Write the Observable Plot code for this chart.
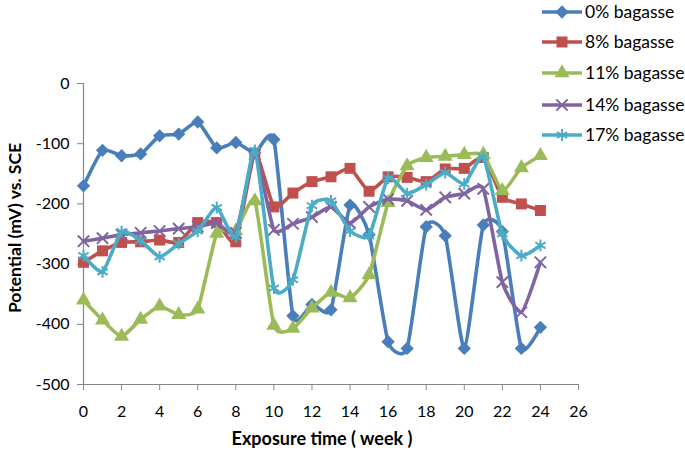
<!DOCTYPE html>
<html><head><meta charset="utf-8">
<script src="https://cdn.jsdelivr.net/npm/d3@7"></script>
<script src="https://cdn.jsdelivr.net/npm/@observablehq/plot@0.6"></script>
<style>
body{margin:0;background:#fff;}
#wrap{position:relative;width:685px;height:455px;}
#legend{position:absolute;left:0;top:0;pointer-events:none;}
</style></head><body><div id="wrap"></div>
<script>
const weeks = [0,1,2,3,4,5,6,7,8,9,10,11,12,13,14,15,16,17,18,19,20,21,22,23,24];
const seriesNames = ["0% bagasse","8% bagasse","11% bagasse","14% bagasse","17% bagasse"];
const s0  = [-170,-111,-120,-117,-87,-84,-64,-107,-98,-115,-93,-386,-367,-376,-202,-251,-429,-440,-238,-253,-440,-235,-246,-440,-405];
const s8  = [-297,-278,-264,-263,-260,-264,-231,-231,-263,-116,-205,-182,-163,-155,-141,-179,-155,-156,-163,-142,-141,-123,-189,-200,-211];
const s11 = [-360,-393,-420,-392,-370,-384,-375,-249,-245,-195,-402,-407,-373,-347,-356,-318,-198,-137,-123,-121,-118,-118,-178,-140,-120];
const s14 = [-262,-257,-251,-248,-245,-241,-238,-232,-248,-118,-243,-233,-222,-205,-232,-205,-192,-195,-210,-189,-183,-175,-330,-380,-297];
const s17 = [-286,-313,-246,-261,-288,-266,-245,-206,-255,-111,-340,-326,-203,-195,-245,-253,-157,-183,-168,-148,-167,-122,-250,-286,-269];
const allSeries = [s0, s8, s11, s14, s17];
const colors = ["#4A7EBB","#C0504D","#9BBB59","#8064A2","#4BACC6"];
const symbols = ["diamond2","square","triangle","times","asterisk"];
const xTicks = [0,2,4,6,8,10,12,14,16,18,20,22,24,26];
const yTicks = [0,-100,-200,-300,-400,-500];
const xLabel = "Exposure time ( week )";
const yLabel = "Potential (mV) vs. SCE";

const rows = [];
allSeries.forEach((s, k) => s.forEach((v, i) => rows.push({week: weeks[i], value: v, series: seriesNames[k], k})));

const marks = [
  Plot.ruleX([0], {stroke: "#868686", strokeWidth: 1.2}),
  Plot.ruleY([-500], {stroke: "#868686", strokeWidth: 1.2}),
  Plot.axisY({ticks: yTicks, tickSize: 6, tickPadding: 8, tickFormat: d => String(d), stroke: "#868686", fill: "#000", fontSize: 16, label: null}),
  Plot.axisX({ticks: xTicks, tickSize: 6, tickPadding: 15, tickFormat: d => String(d), stroke: "#868686", fill: "#000", fontSize: 16, label: null}),
  Plot.text([yLabel], {frameAnchor: "left", textAnchor: "middle", rotate: -90, dx: -68, dy: -6, fontWeight: "bold", fontSize: 17.5, fill: "#000"}),
  Plot.text([xLabel], {frameAnchor: "bottom", dy: 60, dx: -9, fontWeight: "bold", fontSize: 18, fill: "#000"})
];
const symSize = [6, 6.2, 5.6, 5.2, 5.6];
seriesNames.forEach((name, k) => {
  const d = rows.filter(r => r.k === k);
  marks.push(Plot.line(d, {x: "week", y: "value", stroke: colors[k], strokeWidth: 3.6, curve: "cardinal", tension: 0.45}));
  const filled = k < 3;
  marks.push(Plot.dot(d, {x: "week", y: "value", symbol: () => symbols[k], r: symSize[k],
    fill: filled ? colors[k] : "none", stroke: filled ? "none" : colors[k], strokeWidth: filled ? 0 : 2}));
});

const chart = Plot.plot({
  width: 685, height: 455,
  marginLeft: 83, marginRight: 107, marginTop: 83, marginBottom: 71,
  x: {domain: [0, 26]},
  y: {domain: [-500, 0]},
  symbol: {type: "identity"},
  style: {fontFamily: "Lato, sans-serif", fontSize: "16px", color: "#000", background: "#fff", overflow: "visible"},
  marks
});
document.getElementById("wrap").appendChild(chart);

// legend
const lg = d3.select("#wrap").append("svg").attr("id", "legend").attr("width", 685).attr("height", 455);
const legendY = [12, 42, 73, 105, 135];
const symMap = {diamond2: d3.symbolDiamond2, square: d3.symbolSquare, triangle: d3.symbolTriangle, times: d3.symbolTimes, asterisk: d3.symbolAsterisk};
seriesNames.forEach((name, k) => {
  const g = lg.append("g").attr("transform", `translate(0,${legendY[k]})`);
  g.append("line").attr("x1", 542).attr("x2", 582).attr("stroke", colors[k]).attr("stroke-width", 3.6);
  const filled = k < 3;
  g.append("path").attr("transform", "translate(562,0)")
    .attr("d", d3.symbol(symMap[symbols[k]], Math.PI * symSize[k] * symSize[k])())
    .attr("fill", filled ? colors[k] : "none").attr("stroke", filled ? "none" : colors[k]).attr("stroke-width", 2);
  g.append("text").attr("x", 585).attr("dy", "0.35em").attr("font-family", "Lato, sans-serif").attr("font-size", 17.5).text(name);
});
</script></body></html>
